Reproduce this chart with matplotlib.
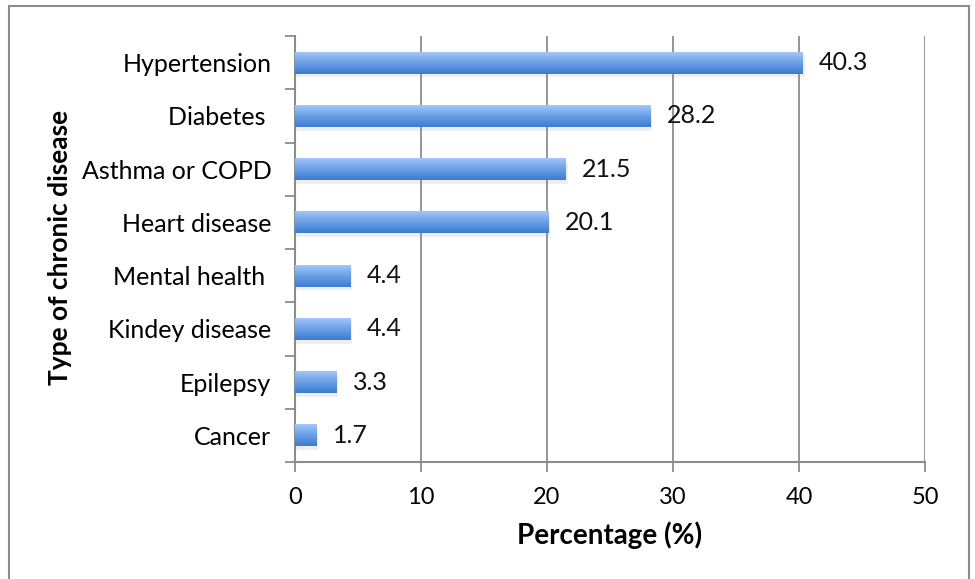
import matplotlib.pyplot as plt
import numpy as np
from matplotlib.colors import LinearSegmentedColormap
from matplotlib.patches import Rectangle

diseases = ["Hypertension", "Diabetes ", "Asthma or COPD", "Heart disease",
            "Mental health ", "Kindey disease", "Epilepsy", "Cancer"]
percent = [40.3, 28.2, 21.5, 20.1, 4.4, 4.4, 3.3, 1.7]

plt.rcParams['font.family'] = ['Lato', 'DejaVu Sans']

fig = plt.figure(figsize=(9.75, 5.79), dpi=100)
ax = fig.add_axes([295 / 975, 1 - 462 / 579, 630 / 975, 426 / 579])

# outer chart frame (bottom edge falls outside the picture)
fig.patches.append(Rectangle((9 / 975, -0.05), 960 / 975, 1.05 - 6 / 579,
                             transform=fig.transFigure, fill=False,
                             edgecolor="#8c8c8c", linewidth=1.5))

grad = LinearSegmentedColormap.from_list("bar", ["#3d7bd0", "#6a9fe6", "#a2c7f9"])
ypos = np.arange(len(diseases))[::-1]
h = 0.41

for y, v in zip(ypos, percent):
    # soft shadow
    ax.barh(y - 0.07, v + 0.1, height=h, left=0.05, color="#808080",
            alpha=0.12, zorder=2, linewidth=0)
    bar = ax.barh(y, v, height=h, color="none", zorder=3, linewidth=0)[0]
    img = ax.imshow(np.linspace(0, 1, 64).reshape(-1, 1), cmap=grad,
                    aspect="auto", origin="lower",
                    extent=(0, v, y - h / 2, y + h / 2), zorder=3)
    img.set_clip_path(bar)
    ax.text(v + 1.3, y, f"{v}", va="center", ha="left", fontsize=18,
            color="#111111", zorder=4)

ax.set_xlim(0, 50)
ax.set_ylim(-0.5, len(diseases) - 0.5)
ax.set_xticks(range(0, 51, 10))
ax.set_yticks(ypos)
ax.set_yticklabels(diseases)
ax.set_yticks(np.arange(-0.5, len(diseases), 1), minor=True)
ax.tick_params(axis="y", which="major", length=0, pad=17, labelsize=18)
ax.tick_params(axis="y", which="minor", length=7, width=1.3, color="#8c8c8c")
ax.tick_params(axis="x", length=7, width=1.3, color="#8c8c8c", pad=11,
               labelsize=17)

ax.grid(axis="x", color="#8c8c8c", linewidth=1.3, zorder=1)
ax.set_axisbelow(True)
for s in ["top", "right"]:
    ax.spines[s].set_visible(False)
for s in ["left", "bottom"]:
    ax.spines[s].set_color("#8c8c8c")
    ax.spines[s].set_linewidth(1.5)

ax.set_xlabel("Percentage (%)", fontsize=20, fontweight="bold", labelpad=10)
fig.text(60 / 975, 1 - 247 / 579, "Type of chronic disease", rotation=90,
         ha="center", va="center", fontsize=19, fontweight="bold")

fig.savefig("out.png", dpi=100)
